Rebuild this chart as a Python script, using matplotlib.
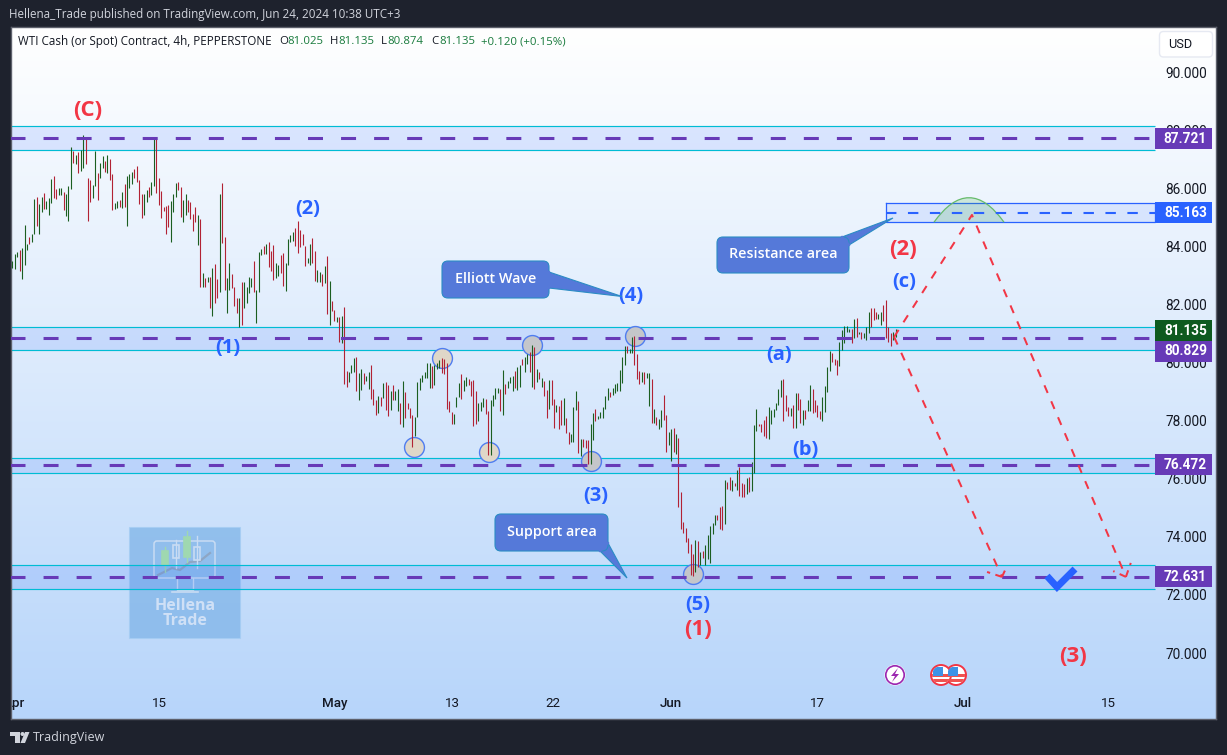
import numpy as np
import matplotlib
matplotlib.use('Agg')
import matplotlib.pyplot as plt
from matplotlib.patches import Rectangle, FancyBboxPatch, Polygon, Circle, PathPatch
from matplotlib.path import Path
from matplotlib.transforms import Affine2D

plt.rcParams['font.family'] = ['Roboto', 'DejaVu Sans']
plt.rcParams['lines.scale_dashes'] = False

# 4h bars (high, low, g = up bar / r = down bar)
bar_high = [
    83.49, 83.73, 83.82, 83.87, 83.94, 84.73, 84.07, 84.33, 84.41, 85.63,
    85.69, 85.46, 85.69, 85.82, 85.56, 85.66, 86.32, 86.42, 85.96, 86.01,
    86.00, 85.86, 85.80, 86.08, 87.42, 87.28, 87.14, 87.26, 87.31, 87.83,
    87.74, 86.35, 86.28, 86.11, 87.28, 86.53, 86.87, 87.11, 86.94, 87.14,
    87.00, 86.49, 85.48, 85.56, 85.59, 85.87, 86.14, 86.42, 86.49, 86.55, 86.65, 86.76,
    86.28, 85.80, 85.80, 85.94, 86.03, 86.20, 87.74, 87.74, 86.35, 85.90,
    85.36, 85.39, 85.42, 85.56, 85.80, 86.17, 86.21, 86.03, 85.59, 85.80,
    85.59, 85.54, 85.11, 85.34, 85.08, 84.94, 83.07, 82.92, 82.95, 82.95,
    83.24, 83.39, 82.87, 85.80, 86.17, 84.31, 82.90, 83.41, 83.04, 82.59,
    82.22, 82.22, 82.78, 82.78, 82.61, 82.95, 82.90, 83.49, 82.50, 83.80,
    83.89, 84.01, 84.08, 84.16, 83.84, 84.04, 83.44, 83.36, 83.70, 83.76,
    83.41, 84.24, 84.39, 84.50, 84.62, 84.87, 84.56, 84.41, 84.00, 83.59,
    84.08, 84.29, 83.84, 83.19, 83.13, 83.04, 83.32, 83.67, 82.80, 82.10,
    81.81, 81.58, 81.55, 81.60, 81.90, 79.71, 79.68, 79.91, 80.17, 80.19,
    79.63, 79.78, 79.63, 79.55, 79.68, 79.91, 79.09, 78.71, 78.85, 78.80,
    79.28, 79.32, 79.22, 79.02, 79.22, 79.03, 79.08, 78.59, 79.36, 78.98,
    78.59, 78.42, 78.19, 78.14, 79.34, 79.45, 79.57, 79.68, 79.99, 79.99,
    79.88, 79.91, 80.00, 80.09, 80.14, 80.11, 79.97, 78.67, 78.30, 78.23,
    78.80, 79.30, 79.59, 79.40, 79.49, 79.43, 79.37, 79.40, 79.02, 78.62,
    78.65, 78.77, 78.74, 78.33, 78.71, 78.88, 79.13, 79.11, 79.09, 79.74,
    79.25, 79.36, 79.51, 79.55, 79.71, 79.83, 79.91, 80.11, 80.20, 80.30,
    80.37, 80.60, 80.52, 79.76, 79.66, 79.45, 79.36, 79.05, 79.40, 79.40,
    78.73, 78.54, 78.51, 78.71, 78.77, 78.08, 77.62, 77.54, 78.46, 79.02,
    78.69, 77.35, 77.35, 77.33, 77.33, 77.87, 78.25, 78.40, 78.16, 78.31,
    78.46, 78.85, 79.11, 78.97, 79.11, 79.26, 79.28, 79.74, 80.20, 80.58,
    80.58, 80.45, 80.89, 80.91, 80.29, 79.71, 79.68, 79.68, 79.65, 79.65,
    79.43, 78.40, 78.11, 78.04, 78.37, 78.88, 78.19, 77.60, 77.70, 77.73,
    77.54, 77.39, 75.53, 74.50, 74.29, 73.95, 73.74, 73.41, 73.89, 73.86,
    73.47, 73.51, 73.72, 74.06, 74.37, 74.46, 74.75, 74.75, 75.01, 75.06,
    75.96, 75.90, 76.05, 75.96, 75.85, 76.30, 76.39, 75.86, 75.82, 76.01, 76.07,
    76.59, 77.85, 78.39, 77.90, 77.88, 78.02, 78.16, 78.46, 78.37, 78.39, 78.60,
    79.09, 79.40, 79.43, 78.88, 78.48, 78.42, 78.54, 78.96, 78.96, 78.74,
    78.37, 78.37, 78.71, 79.23, 79.09, 78.71, 78.54, 78.34, 78.82, 79.19,
    79.83, 80.41, 80.32, 80.12, 80.09, 80.72, 81.12, 81.26, 81.26, 81.14,
    81.15, 81.50, 81.54, 81.06, 81.06, 81.00, 81.21, 81.73, 81.86, 81.86,
    81.75, 81.66, 81.73, 81.98, 82.15, 81.21, 81.00, 81.06, 81.15,
]
bar_low = [
    83.25, 83.22, 83.62, 83.16, 82.87, 83.36, 83.87, 84.08, 84.16, 84.41,
    84.70, 84.41, 85.19, 85.27, 85.27, 85.08, 85.50, 85.66, 85.63, 85.77,
    85.77, 85.25, 85.05, 84.87, 85.97, 86.88, 86.83, 86.52, 86.60, 86.68,
    86.83, 84.87, 85.54, 85.65, 86.08, 85.59, 86.34, 86.68, 86.57, 86.53,
    86.28, 85.25, 85.28, 85.33, 85.34, 85.33, 85.34, 84.70, 86.02, 86.15, 86.34, 86.23,
    85.46, 84.99, 85.08, 85.54, 85.71, 85.77, 86.08, 85.85, 85.42, 84.99,
    85.22, 84.42, 84.67, 84.16, 85.19, 85.71, 85.94, 85.02, 84.85, 85.08,
    85.19, 84.93, 84.54, 84.85, 84.04, 82.61, 82.61, 82.61, 82.78, 81.87,
    81.61, 82.06, 82.21, 82.44, 84.10, 82.50, 81.72, 82.50, 82.55, 81.95,
    81.72, 81.21, 81.29, 81.89, 82.04, 82.38, 82.61, 82.44, 81.37, 82.44,
    83.69, 83.73, 83.72, 83.30, 83.15, 82.84, 82.92, 82.99, 83.07, 82.65,
    82.47, 83.36, 84.16, 84.18, 84.02, 83.78, 83.99, 84.04, 83.33, 83.41,
    83.36, 83.41, 82.80, 82.78, 82.78, 82.63, 82.75, 81.67, 81.29, 81.78,
    81.44, 81.40, 80.72, 80.66, 79.26, 79.15, 79.32, 79.63, 79.66, 79.02,
    78.71, 79.05, 79.26, 79.36, 79.08, 78.74, 78.54, 78.19, 78.27, 78.51,
    78.77, 78.37, 78.16, 78.37, 78.71, 78.71, 78.34, 77.88, 77.79, 78.08,
    78.39, 78.08, 77.10, 77.47, 78.11, 79.05, 79.34, 79.45, 79.45, 79.11,
    79.11, 79.22, 79.76, 79.80, 79.63, 79.60, 78.40, 78.28, 77.88, 77.88,
    78.46, 78.80, 78.74, 79.02, 79.19, 79.22, 78.85, 77.82, 77.87, 77.99,
    78.33, 78.48, 78.23, 76.82, 76.82, 78.50, 78.73, 78.94, 78.33, 78.19,
    78.92, 79.13, 79.28, 79.03, 79.11, 79.05, 79.15, 79.91, 79.67, 79.95,
    79.68, 79.17, 79.09, 79.32, 79.43, 79.15, 78.85, 78.08, 78.40, 78.54,
    77.73, 78.31, 77.70, 77.85, 77.85, 77.59, 77.20, 77.27, 77.27, 78.37,
    76.87, 76.79, 77.10, 77.07, 76.50, 76.50, 77.33, 78.00, 78.04, 78.08,
    78.08, 78.39, 78.71, 78.80, 78.88, 78.96, 79.02, 79.02, 79.31, 79.91,
    80.31, 80.31, 80.34, 79.91, 79.43, 79.26, 79.34, 79.26, 79.45, 78.50,
    77.93, 77.91, 77.85, 77.71, 77.79, 78.02, 76.93, 77.16, 76.62, 76.93,
    76.85, 75.04, 74.27, 74.12, 73.81, 73.43, 72.69, 72.65, 72.80, 72.97,
    73.03, 73.28, 73.03, 73.24, 73.09, 74.10, 74.41, 74.58, 74.27, 74.23,
    74.44, 75.63, 75.61, 75.59, 75.75, 75.61, 75.42, 75.38, 75.38, 75.46, 75.55,
    75.59, 76.19, 77.65, 77.80, 77.62, 77.47, 77.39, 77.37, 77.88, 78.11, 78.37,
    78.54, 78.82, 77.99, 78.34, 78.16, 78.16, 77.76, 77.76, 78.37, 77.91,
    77.85, 78.04, 78.33, 78.33, 78.25, 78.31, 78.14, 78.06, 78.00, 78.28,
    79.00, 79.72, 80.03, 79.91, 79.57, 79.88, 80.43, 80.68, 81.06, 81.06,
    80.68, 80.83, 80.87, 80.98, 80.80, 80.83, 80.77, 81.03, 81.23, 81.46,
    81.49, 81.49, 81.29, 81.44, 80.83, 80.69, 80.58, 80.77, 80.89,
]
bar_dir = ("gggrgggrgg" "rggrgggrrg" "grgggrgrgg" "rrrggrggrg" "rrggrgrgggrr"
           "rrggrggrrr" "rrrgggrrgg" "rrrrgrgrgr" "grrgrrggrr" "rgrggggrgg"
           "grgrrrggrr" "ggggrrrrrg" "grrggrgrgr" "rgrgrrgggr" "ggrggrrrgr"
           "grrgrggrgr" "rrrggggggg" "rgggrrrrrg" "ggrggrrrrg" "ggrrggggrg"
           "rgggrggrgg" "rgrgrgrrgr" "rgrrgrrggg" "rgrrrggrgg" "gggrgggggg"
           "rggrrrgrgg" "rgrggrrggr" "grrrrrrrgr" "grgggggrrr" "grrgrgrrrgr"
           "gggrrrrgggg" "ggrrrgrgrr" "grggrrrrgg" "ggrrrggggg" "rgrgrgggrr"
           "rggrrrrgg")

# price scale and time scale
price_ticks = [90, 88, 86, 84, 82, 80, 78, 76, 74, 72, 70]
date_ticks = [0.7, 60.5, 132.3, 180.2, 221.6, 269.9, 329.8, 389.6, 449.3]
date_labels = ['Apr', '15', 'May', '13', '22', 'Jun', '17', 'Jul', '15']
month_labels = ['Apr', 'May', 'Jun', 'Jul']

# horizontal zones: (top, bottom) and the level in the middle
zone_tops = [88.13, 81.21, 76.70, 73.02]
zone_bottoms = [87.31, 80.42, 76.19, 72.19]
zone_levels = [87.721, 80.829, 76.472, 72.631]
res_top, res_bottom, res_level = 85.48, 84.83, 85.163
last_price = 81.135

# wave labels: text, bar, price
blue_waves = [('(2)', 121.2, 85.28), ('(1)', 88.4, 80.49), ('(4)', 253.6, 82.28),
              ('(3)', 239.2, 75.40), ('(5)', 281.1, 71.65), ('(a)', 314.2, 80.25),
              ('(b)', 325.2, 76.98), ('(c)', 365.5, 82.77)]
red_waves = [('(C)', 31.0, 88.68), ('(2)', 365.1, 83.89), ('(1)', 281.1, 70.81),
             ('(3)', 434.7, 69.88)]
beige_x = [164.6, 195.4, 176.1]
beige_y = [77.09, 76.92, 80.15]
grey_x = [237.2, 212.9, 255.2, 278.9]
grey_y = [76.61, 80.60, 80.91, 72.72]

# forecast path
path_up_x, path_up_y = [361.4, 393.3, 456.4], [80.88, 85.08, 72.62]
path_down_x, path_down_y = [361.4, 405.6], [80.88, 72.62]
barbs = [(405.6, 72.62, 399.5, 72.79), (405.6, 72.62, 407.7, 73.00),
         (456.4, 72.62, 451.2, 72.82), (456.4, 72.62, 458.4, 73.10)]

W, H = 1227, 755
DARK = '#1e222d'
TEAL = '#00bcd4'
PURPLE = '#673ab7'
BLUE = '#2962ff'
RED = '#f23645'
fig = plt.figure(figsize=(W / 100, H / 100), dpi=100, facecolor=DARK)

# axes fill the chart panel
left, right, top, bottom = 10.5, 1215.5, 27, 718.5
ax = fig.add_axes([left / W, 1 - bottom / H, (right - left) / W, (bottom - top) / H])
px_per_bar = 2.44
px_per_unit = 29.05
ax.set_xlim((left - 12.3) / px_per_bar, (right - 12.3) / px_per_bar)
ax.set_ylim(90 - (bottom - 72) / px_per_unit, 90 + (72 - top) / px_per_unit)
xl, yl = ax.get_xlim(), ax.get_ylim()
scale_x = (1155 - 12.3) / px_per_bar

# pixel transform for the page furniture (y goes down)
px = Affine2D().scale(1 / W, -1 / H).translate(0, 1) + fig.transFigure

# background gradient
grad = np.linspace(0, 1, 256)[:, None, None]
c0 = np.array([1.0, 1.0, 1.0])
c1 = np.array([0xb7, 0xd5, 0xfa]) / 255
ax.imshow(c0 + (c1 - c0) * grad, extent=[xl[0], xl[1], yl[0], yl[1]], aspect='auto', zorder=0)
ax.set_xlim(xl)
ax.set_ylim(yl)

for s in ax.spines.values():
    s.set_color('#5d606b')
    s.set_linewidth(1.0)

# watermark
ax.add_patch(Rectangle((129, 527), 111, 111, transform=px, fc='#7fb4e8', ec='#a5cdf3', lw=0.8, alpha=0.75, zorder=1))
wm = '#c9dcf3'
ax.add_patch(FancyBboxPatch((154, 541), 61, 37, boxstyle='round,pad=0,rounding_size=3', transform=px,
                            fc='none', ec=wm, lw=1.1, zorder=1.1))
ax.plot([172, 198], [592, 592], transform=px, color=wm, lw=1.2, zorder=1.1)
ax.plot([177, 177, 193, 193], [578, 590, 590, 578], transform=px, color=wm, lw=1.0, zorder=1.1)
ax.plot([158, 172, 180, 190, 200, 210], [575, 568, 570, 562, 561, 553], transform=px, color='#8ea6c4', lw=1.6, zorder=1.1)
for cx, y0, y1, b0, b1, col, fill in [(165, 547, 572, 551, 565, '#9fd8b0', '#9fd8b0'), (176, 540, 568, 545, 558, wm, 'none'),
                                      (187, 531, 562, 537, 557, '#9fd8b0', '#9fd8b0'), (197, 536, 568, 547, 560, wm, 'none')]:
    ax.plot([cx, cx], [y0, y1], transform=px, color=col, lw=1.0, zorder=1.1)
    ax.add_patch(Rectangle((cx - 3, b0), 6, b1 - b0, transform=px, fc=fill, ec=col, lw=1.2, zorder=1.1))
ax.text(185, 606, 'Hellena', transform=px, ha='center', va='center', color='#cfe0f6', fontsize=11.5,
        fontweight='bold', family='Open Sans', zorder=1.1)
ax.text(185, 621, 'Trade', transform=px, ha='center', va='center', color='#cfe0f6', fontsize=11.5,
        fontweight='bold', family='Open Sans', zorder=1.1)

# zones
for t, b in zip(zone_tops, zone_bottoms):
    ax.add_patch(Rectangle((xl[0], b), scale_x - xl[0], t - b, fc=BLUE, ec='none', alpha=0.13, zorder=2))
    ax.plot([xl[0], scale_x], [t, t], color=TEAL, lw=0.85, zorder=2.1, solid_capstyle='butt')
    ax.plot([xl[0], scale_x], [b, b], color=TEAL, lw=0.85, zorder=2.1, solid_capstyle='butt')

# resistance box
res_x = (885.5 - 12.3) / px_per_bar
ax.add_patch(Rectangle((res_x, res_bottom), scale_x - res_x, res_top - res_bottom, fc=BLUE, ec='none',
                       alpha=0.1, zorder=2))
ax.plot([res_x, scale_x, scale_x, res_x, res_x], [res_top, res_top, res_bottom, res_bottom, res_top], color=BLUE, lw=0.9, zorder=2.1)
arc_x0, arc_x1 = (934 - 12.3) / px_per_bar, (1004 - 12.3) / px_per_bar
arc_peak = res_bottom + 2 * 24.5 / px_per_unit
arc_verts = [(arc_x0, res_bottom), ((arc_x0 + arc_x1) / 2, arc_peak), (arc_x1, res_bottom), (arc_x0, res_bottom)]
ax.add_patch(PathPatch(Path(arc_verts, [Path.MOVETO, Path.CURVE3, Path.CURVE3, Path.CLOSEPOLY]),
                       fc='#4caf50', ec='none', alpha=0.2, zorder=2.2))
ax.add_patch(PathPatch(Path(arc_verts[:3], [Path.MOVETO, Path.CURVE3, Path.CURVE3]), fc='none', ec='#66bb6a', lw=0.9, zorder=2.2))

# circles sit under the bars
ax.scatter(beige_x, beige_y, s=205, fc='#dfd7c8', ec='#4f7df0', lw=1.0, zorder=2.6)
ax.scatter(grey_x, grey_y, s=205, fc='#c4c6ca', ec='#4f7df0', lw=1.0, zorder=2.6)

# bars
xs = np.arange(len(bar_high))
cols = ['#1b5e20' if d == 'g' else '#b22234' for d in bar_dir]
ax.vlines(xs, bar_low, bar_high, colors=cols, lw=0.8, zorder=3)

# dashed levels on top of the bars
for lev in zone_levels:
    ax.plot([(10 - 12.3) / px_per_bar, scale_x - 2], [lev, lev], color=PURPLE, lw=2.2, ls=(0, (10.8, 13)),
            dash_capstyle='butt', zorder=4)
ax.plot([res_x, scale_x], [res_level, res_level], color=BLUE, lw=1.5, ls=(0, (7.5, 8.3)), dash_capstyle='butt', zorder=4)

# forecast
red_dash = (0, (6, 6.5))
ax.plot(path_up_x, path_up_y, color=RED, lw=1.45, ls=red_dash, zorder=6)
ax.plot(path_down_x, path_down_y, color=RED, lw=1.45, ls=red_dash, zorder=6)
for x0, y0, x1, y1 in barbs:
    ax.plot([x0, x1], [y0, y1], color=RED, lw=1.45, ls=(0, (5, 4)), zorder=6)

# check mark
ax.plot([1047, 1057, 1075], [576, 587, 569], transform=px, color=BLUE, lw=5, solid_joinstyle='miter',
        solid_capstyle='butt', zorder=6)

# wave labels
for lab, x, y in blue_waves:
    ax.text(x, y, lab, color=BLUE, fontsize=14.5, fontweight='bold', family='Open Sans', ha='center', va='center', zorder=7)
for lab, x, y in red_waves:
    ax.text(x, y, lab, color=RED, fontsize=16, fontweight='bold', family='Open Sans', ha='center', va='center', zorder=7)

# callouts
CALL = '#5579d9'
CALL_EDGE = '#2b8cc4'
callouts = [('Elliott Wave', 442, 261, 549, 298, [(549, 272), (622, 296.5), (549, 288)]),
            ('Resistance area', 717, 237, 849, 273, [(842, 237), (893, 218), (849, 245)]),
            ('Support area', 495, 514, 608, 551, [(600, 551), (627, 578), (608, 543)])]
for txt, x0, y0, x1, y1, tail in callouts:
    ax.add_patch(Polygon(tail, closed=True, transform=px, fc=CALL, ec=CALL_EDGE, lw=0.8, zorder=7.5))
    ax.add_patch(FancyBboxPatch((x0, y0), x1 - x0, y1 - y0, boxstyle='round,pad=0,rounding_size=6', transform=px,
                                fc=CALL, ec=CALL_EDGE, lw=0.8, zorder=7.6))
    ax.plot([tail[0][0], tail[2][0]], [tail[0][1], tail[2][1]], transform=px, color=CALL, lw=1.6, zorder=7.7)
    ax.text((x0 + x1) / 2, (y0 + y1) / 2 - 0.5, txt, transform=px, color='white', fontsize=10.3, family='Open Sans',
            fontweight='semibold', ha='center', va='center', zorder=8)

# axes ticks
ax.yaxis.tick_right()
ax.set_yticks(price_ticks)
ax.set_yticklabels([f'{p:.3f}' for p in price_ticks], ha='right', fontsize=9.8, color='#131722')
ax.tick_params(axis='y', length=0, pad=-6)
ax.set_xticks(date_ticks)
ax.set_xticklabels(date_labels, fontsize=9.6, color='#131722')
ax.tick_params(axis='x', length=0, pad=-15.5)
for tl, lab in zip(ax.get_xticklabels(), date_labels):
    if lab in month_labels:
        tl.set_fontweight('medium')
    tl.set_clip_box(ax.bbox)
    tl.set_clip_on(True)

# price tags on the scale, last two are pushed apart so they do not collide
tag_x1 = (1212 - 12.3) / px_per_bar
tag_text_x = (1207 - 12.3) / px_per_bar
tag_levels = [87.721, 85.163, 81.135, 80.829, 76.472, 72.631]
tag_centers = [87.71, 85.163, 81.09, 80.39, 76.472, 72.62]
tag_colors = [PURPLE, BLUE, '#0e5a1f', PURPLE, PURPLE, PURPLE]
for lev, yc, col in zip(tag_levels, tag_centers, tag_colors):
    h = 21 / px_per_unit
    ax.add_patch(Rectangle((scale_x, yc - h / 2), tag_x1 - scale_x, h, fc=col, ec='none', zorder=9))
    ax.text(tag_text_x, yc - 0.01, f'{lev:.3f}', color='white', fontsize=9.8, fontweight='bold',
            ha='right', va='center', zorder=10)

# USD button
ax.add_patch(FancyBboxPatch((1159.5, 31.5), 53, 25.5, boxstyle='round,pad=0,rounding_size=4', transform=px,
                            fc='white', ec='#e6e9f2', lw=1, zorder=9))
ax.text(1180.5, 44.5, 'USD', transform=px, color='#131722', fontsize=9.2, ha='center', va='center', zorder=10)

# legend row
ax.text(18, 41.5, 'WTI Cash (or Spot) Contract, 4h, PEPPERSTONE', transform=px, color='#131722', fontsize=8.35,
        va='center', family='Open Sans', zorder=10)
GREEN_TXT = '#187a3c'
for x, t, col in [(279, 'O', '#131722'), (287, '81.025', GREEN_TXT), (330, 'H', '#131722'), (338, '81.135', GREEN_TXT),
                  (381, 'L', '#131722'), (387, '80.874', GREEN_TXT), (431, 'C', '#131722'), (439, '81.135', GREEN_TXT),
                  (481, '+0.120 (+0.15%)', GREEN_TXT)]:
    ax.text(x, 41.5, t, transform=px, color=col, fontsize=8.2, va='center', family='Open Sans', zorder=10)

# event icons
ax.add_patch(Circle((895, 675), 10.5, transform=px, fc='white', ec='none', zorder=7))
ax.add_patch(Circle((895, 675), 9.2, transform=px, fc='white', ec='#9c27b0', lw=1.2, zorder=7.1))
ax.add_patch(Polygon([(898, 668), (891, 676), (895, 676), (892, 682), (899, 674), (895, 674)], closed=True,
                     transform=px, fc='#9c27b0', ec='none', zorder=7.2))
for cx in [956, 941]:
    ax.add_patch(Circle((cx, 675), 10, transform=px, fc='white', ec='#f23645', lw=1.4, zorder=7.3))
    for sy in [675.5, 680.5]:
        r = Rectangle((cx - 11, sy - 1.4), 22, 2.8, transform=px, fc='#ef5350', ec='none', zorder=7.31)
        ax.add_patch(r)
        r.set_clip_path(Circle((cx, 675), 9, transform=px))
    r = Rectangle((cx - 8, 667), 10, 9, transform=px, fc='#3d93e6', ec='none', zorder=7.32)
    ax.add_patch(r)
    r.set_clip_path(Circle((cx, 675), 9, transform=px))

# header and footer
fig.text(9 / W, 1 - 14.5 / H, 'Hellena_Trade published on TradingView.com, Jun 24, 2024 10:38 UTC+3', color='#d1d4dc',
         fontsize=8.35, va='center', family='Open Sans')
fig.text(33 / W, 1 - 737.5 / H, 'TradingView', color='#d1d4dc', fontsize=9.0, va='center', family='Open Sans')
ax.add_patch(Polygon([(10, 732), (20, 732), (20, 743), (15, 743), (15, 736), (10, 736)], closed=True, transform=px,
                     fc='#d1d4dc', ec='none', clip_on=False, zorder=10))
ax.add_patch(Circle((22.5, 734), 2, transform=px, fc='#d1d4dc', ec='none', clip_on=False, zorder=10))
ax.add_patch(Polygon([(25, 732), (29.5, 732), (25, 743), (20.5, 743)], closed=True, transform=px, fc='#d1d4dc', ec='none',
                     clip_on=False, zorder=10))

fig.savefig('out.png', dpi=100, facecolor=DARK)
